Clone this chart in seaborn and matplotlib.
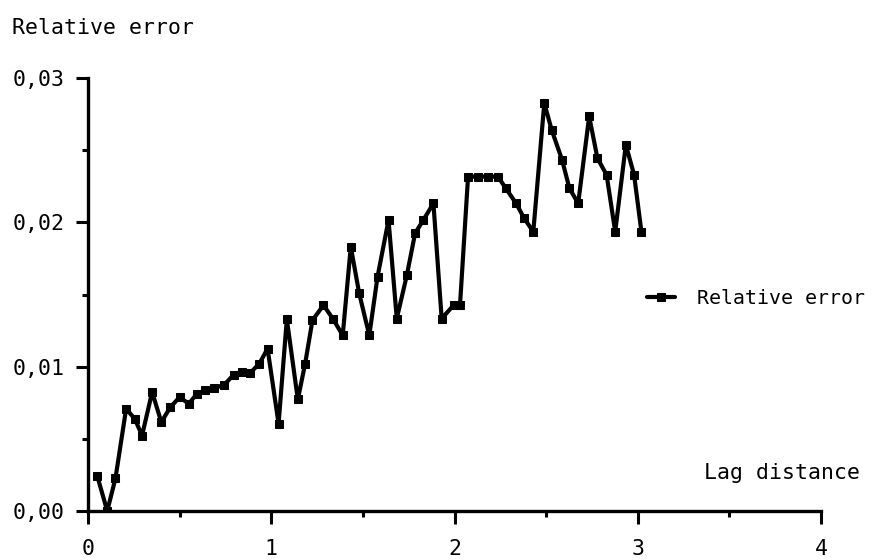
import matplotlib
matplotlib.use("Agg")
import matplotlib.pyplot as plt
from matplotlib.ticker import MultipleLocator, FuncFormatter
import seaborn as sns
import pandas as pd

# Lag distances and relative error of the variogram estimate
lag = [0.05, 0.105, 0.15, 0.208, 0.255, 0.295, 0.35, 0.40, 0.45, 0.50,
       0.55, 0.595, 0.64, 0.69, 0.744, 0.795, 0.84, 0.886, 0.935, 0.98,
       1.04, 1.085, 1.145, 1.185, 1.225, 1.285, 1.336, 1.39, 1.434, 1.48,
       1.535, 1.58, 1.64, 1.685, 1.74, 1.785, 1.83, 1.885, 1.93, 1.995,
       2.03, 2.074, 2.128, 2.183, 2.237, 2.28, 2.336, 2.38, 2.43, 2.49,
       2.53, 2.587, 2.627, 2.675, 2.735, 2.78, 2.83, 2.877, 2.935, 2.98,
       3.02]
rel_error = [0.00245, 0.0, 0.00227, 0.00708, 0.00639, 0.00523, 0.00824, 0.00616, 0.00720, 0.00789,
             0.00743, 0.00813, 0.00836, 0.00852, 0.00875, 0.00944, 0.00963, 0.00958, 0.01021, 0.01125,
             0.00604, 0.01329, 0.00773, 0.01021, 0.01322, 0.01426, 0.01333, 0.01217, 0.01831, 0.01507,
             0.01217, 0.01623, 0.02016, 0.01333, 0.01634, 0.01924, 0.02016, 0.02132, 0.01333, 0.01426,
             0.01426, 0.02317, 0.02317, 0.02317, 0.02317, 0.02236, 0.02132, 0.02028, 0.01935, 0.02826,
             0.02641, 0.02433, 0.02236, 0.02132, 0.02734, 0.02444, 0.02329, 0.01935, 0.02537, 0.02329,
             0.01935]
x_ticks = [0, 1, 2, 3, 4]
y_ticks = [0.00, 0.01, 0.02, 0.03]

df = pd.DataFrame({"lag": lag, "err": rel_error})

sns.set_style("ticks")
plt.rcParams["font.family"] = ["DejaVu Sans Mono"]
plt.rcParams["text.color"] = "black"
FS = 15.5

fig = plt.figure(figsize=(8.72, 5.6), dpi=100)
ax = fig.add_axes([88 / 872, 1 - 511 / 560, (821 - 88) / 872, (511 - 78) / 560])

sns.lineplot(data=df, x="lag", y="err", ax=ax, color="black", linewidth=3.0,
             marker="s", markersize=6, markeredgecolor="black",
             label="Relative error", legend=False)

ax.set_xlim(0, 4)
ax.set_ylim(0, 0.03)
ax.set_xticks(x_ticks)
ax.set_yticks(y_ticks)
ax.xaxis.set_minor_locator(MultipleLocator(0.5))
ax.yaxis.set_minor_locator(MultipleLocator(0.005))
ax.yaxis.set_major_formatter(FuncFormatter(lambda v, p: f"{v:.2f}".replace(".", ",")))
ax.xaxis.set_major_formatter(FuncFormatter(lambda v, p: f"{int(v)}"))
ax.set_xlabel("")
ax.set_ylabel("")

for side in ("top", "right"):
    ax.spines[side].set_visible(False)
for side in ("left", "bottom"):
    ax.spines[side].set_linewidth(2.4)
    ax.spines[side].set_color("black")

ax.tick_params(axis="both", which="major", direction="out", length=9, width=2.2,
               labelsize=FS, colors="black")
ax.tick_params(axis="y", which="major", pad=8)
ax.tick_params(axis="x", which="major", pad=11)
ax.tick_params(axis="both", which="minor", direction="out", length=4, width=2.2, colors="black")

fig.text(12 / 872, 1 - 28 / 560, "Relative error", fontsize=FS, va="center", ha="left")
fig.text(860 / 872, 1 - 473 / 560, "Lag distance", fontsize=FS, va="center", ha="right")

handles, labels = ax.get_legend_handles_labels()
fig.legend(handles, labels, loc="center left", bbox_to_anchor=(647 / 872, 1 - 298 / 560),
           frameon=False, fontsize=14.3, handlelength=1.4, handletextpad=1.1,
           borderaxespad=0, borderpad=0)

fig.savefig("out.png", dpi=100, facecolor="white")
